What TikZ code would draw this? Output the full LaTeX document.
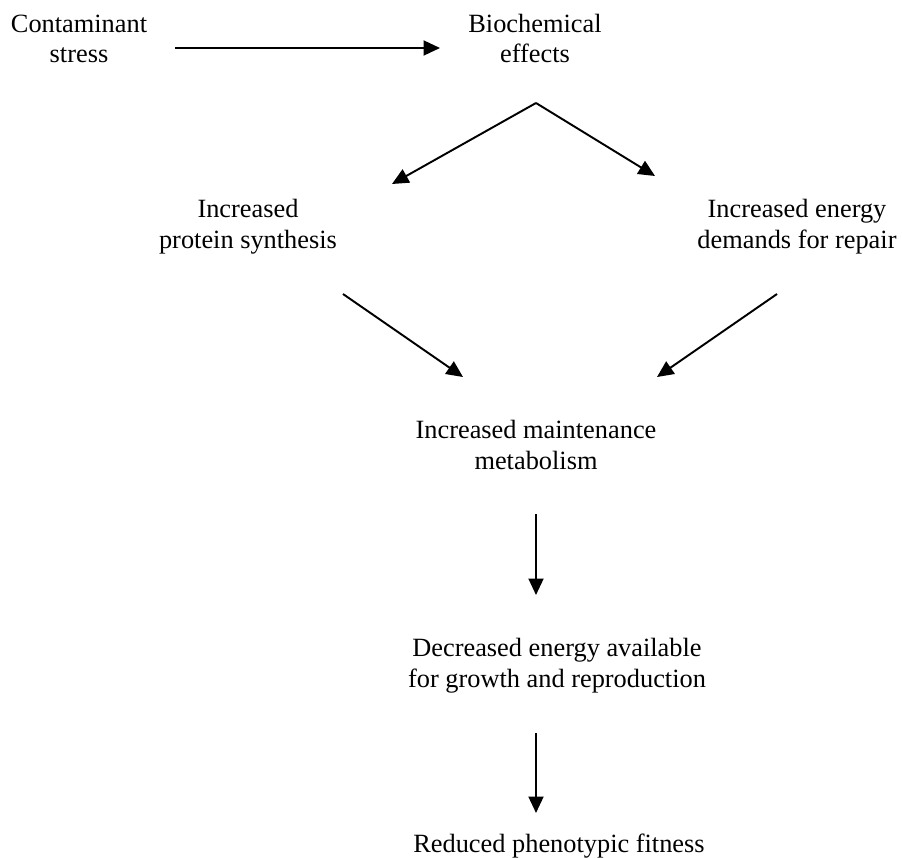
\documentclass[tikz,border=0pt]{standalone}
\usepackage{fontspec}
\setmainfont{Liberation Serif}
\usetikzlibrary{positioning, calc, arrows.meta}

\begin{document}
\begin{tikzpicture}[
    x=0.02cm, y=-0.02cm,
    txt/.style={align=center, font=\fontsize{15}{17.6}\selectfont, inner sep=0pt, anchor=base},
    arr/.style={line width=1.1pt, -{Triangle[length=0.33cm, width=0.3cm]}},
  ]
    \useasboundingbox (0,0) rectangle (902,858);
    % stages of the chain (placed by the baseline of the last line)
    \node[txt] (stress) at (79,63) {Contaminant\\stress};
    \node[txt] (effects) at (535,63) {Biochemical\\effects};
    \node[txt] (protein) at (248,248) {Increased\\protein synthesis};
    \node[txt] (repair) at (797,248) {Increased energy\\demands for repair};
    \node[txt] (maint) at (536,469) {Increased maintenance\\metabolism};
    \node[txt] (avail) at (557,687) {Decreased energy available\\for growth and reproduction};
    \node[txt] (fitness) at (559,852) {Reduced phenotypic fitness};
    % arrow ends
    \coordinate (s1) at (175,48);
    \coordinate (e1) at (440,48);
    \coordinate (apex) at (536,103);
    \coordinate (pin) at (392,184);
    \coordinate (rin) at (655,176);
    \coordinate (pout) at (343,294);
    \coordinate (rout) at (777,294);
    \coordinate (min1) at (463,377);
    \coordinate (min2) at (657,377);
    \coordinate (mout) at (536,514);
    \coordinate (ain) at (536,595);
    \coordinate (aout) at (536,733);
    \coordinate (fin) at (536,813);
    % connectors
    \draw[arr] (s1) -- (e1);
    \draw[arr] (apex) -- (pin);
    \draw[arr] (apex) -- (rin);
    \draw[arr] (pout) -- (min1);
    \draw[arr] (rout) -- (min2);
    \draw[arr] (mout) -- (ain);
    \draw[arr] (aout) -- (fin);
\end{tikzpicture}
\end{document}
